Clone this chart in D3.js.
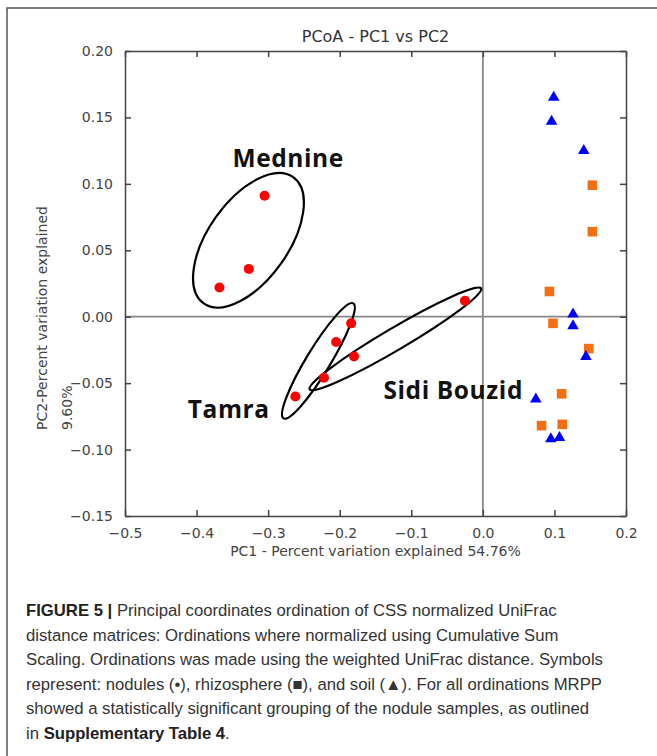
<!DOCTYPE html>
<html>
<head>
<meta charset="utf-8">
<script src="https://cdn.jsdelivr.net/npm/d3@7"></script>
<style>
  body { margin: 0; background: #fff; }
  svg { display: block; }
</style>
</head>
<body>
<div id="chart"></div>
<script>
// Dữ liệu
const xTicks = [-0.5, -0.4, -0.3, -0.2, -0.1, 0.0, 0.1, 0.2];
const yTicks = [-0.15, -0.10, -0.05, 0.00, 0.05, 0.10, 0.15, 0.20];

// nodules (đỏ, tròn)
const noduleX = [-0.305, -0.327, -0.368, -0.025, -0.184, -0.205, -0.180, -0.262, -0.222];
const noduleY = [0.091, 0.036, 0.022, 0.012, -0.005, -0.019, -0.030, -0.060, -0.046];
// rhizosphere (cam, vuông)
const rhizoX = [0.153, 0.153, 0.093, 0.098, 0.148, 0.110, 0.082, 0.111];
const rhizoY = [0.099, 0.064, 0.019, -0.005, -0.024, -0.058, -0.082, -0.081];
// soil (xanh, tam giác)
const soilX = [0.099, 0.096, 0.141, 0.126, 0.126, 0.144, 0.074, 0.095, 0.107];
const soilY = [0.165, 0.147, 0.125, 0.002, -0.007, -0.030, -0.062, -0.092, -0.091];

// các nhóm khoanh tròn: hai đầu trục lớn (đơn vị dữ liệu)
const groupNames = ["Mednine", "Tamra", "Sidi Bouzid"];
const groupTipA = [[-0.390, 0.010], [-0.2785, -0.0765], [-0.242, -0.0547]];
const groupTipB = [[-0.265, 0.105], [-0.181, 0.010], [-0.0024, 0.0213]];
const groupLabelPos = [[-0.272, 0.113], [-0.355, -0.0765], [-0.0414, -0.062]];

const caption = [
    [["FIGURE 5 | ", true], ["Principal coordinates ordination of CSS normalized UniFrac", false]],
    [["distance matrices: Ordinations where normalized using Cumulative Sum", false]],
    [["Scaling. Ordinations was made using the weighted UniFrac distance. Symbols", false]],
    [["represent: nodules (\u2022), rhizosphere (\u25A0), and soil (\u25B2). For all ordinations MRPP", false]],
    [["showed a statistically significant grouping of the nodule samples, as outlined", false]],
    [["in ", false], ["Supplementary Table 4", true], [".", false]]
];

function drawChart() {
    d3.select("#chart").selectAll("*").remove();

    const W = 657, H = 756;
    const svg = d3.select("#chart").append("svg")
        .attr("width", W)
        .attr("height", H);

    svg.append("rect").attr("width", W).attr("height", H).attr("fill", "#fff");

    // khung ngoài (chỉ cạnh trái và trên)
    svg.append("path")
        .attr("d", `M7,${H} L7,8 L${W},8`)
        .attr("fill", "none")
        .attr("stroke", "#555")
        .attr("stroke-width", 1.5);

    // vùng vẽ
    const left = 125, right = 626, top = 51, bottom = 516;

    const xScale = d3.scaleLinear().domain([-0.5, 0.2]).range([left, right]);
    const yScale = d3.scaleLinear().domain([-0.15, 0.20]).range([bottom, top]);

    const tickFont = "'DejaVu Sans', sans-serif";
    const axisColor = "#444";
    const fmt2 = d => d3.format(".2f")(d).replace("-", "\u2212");
    const fmt1 = d => d3.format(".1f")(d).replace("-", "\u2212");

    // trục 0
    svg.append("line")
        .attr("x1", xScale(0)).attr("x2", xScale(0))
        .attr("y1", top).attr("y2", bottom)
        .attr("stroke", "#888").attr("stroke-width", 1.8);
    svg.append("line")
        .attr("x1", left).attr("x2", right)
        .attr("y1", yScale(0)).attr("y2", yScale(0))
        .attr("stroke", "#888").attr("stroke-width", 1.8);

    // trục (tick hướng vào trong, cả bốn cạnh)
    const axes = [
        d3.axisBottom(xScale).tickValues(xTicks).tickFormat(fmt1),
        d3.axisTop(xScale).tickValues(xTicks).tickFormat(""),
        d3.axisLeft(yScale).tickValues(yTicks).tickFormat(fmt2),
        d3.axisRight(yScale).tickValues(yTicks).tickFormat("")
    ];
    const trans = [`translate(0,${bottom})`, `translate(0,${top})`, `translate(${left},0)`, `translate(${right},0)`];
    axes.forEach((ax, i) => {
        const g = svg.append("g")
            .attr("transform", trans[i])
            .call(ax.tickSizeInner(-6).tickSizeOuter(0).tickPadding(12));
        g.select(".domain").attr("stroke", axisColor).attr("stroke-width", 1.5);
        g.selectAll(".tick line").attr("stroke", axisColor).attr("stroke-width", 1.5);
        g.selectAll(".tick text")
            .style("font-family", tickFont)
            .style("font-size", "14px")
            .attr("fill", "#444");
    });

    // tiêu đề
    svg.append("text")
        .attr("x", (left + right) / 2)
        .attr("y", 42)
        .attr("text-anchor", "middle")
        .style("font-family", tickFont)
        .style("font-size", "16px")
        .attr("fill", "#333")
        .text("PCoA - PC1 vs PC2");

    // nhãn trục x
    svg.append("text")
        .attr("x", (left + right) / 2)
        .attr("y", 556)
        .attr("text-anchor", "middle")
        .style("font-family", tickFont)
        .style("font-size", "14px")
        .attr("fill", "#444")
        .text("PC1 - Percent variation explained 54.76%");

    // nhãn trục y (hai dòng)
    const yl = svg.append("text")
        .attr("transform", "translate(47,430) rotate(-90)")
        .style("font-family", tickFont)
        .style("font-size", "14px")
        .attr("fill", "#444");
    yl.append("tspan").attr("x", 0).attr("y", 0).text("PC2-Percent variation explained");
    yl.append("tspan").attr("x", 0).attr("y", 25).text("9.60%");

    // hình ellipse khoanh nhóm
    groupNames.forEach((name, i) => {
        const ax = xScale(groupTipA[i][0]), ay = yScale(groupTipA[i][1]);
        const bx = xScale(groupTipB[i][0]), by = yScale(groupTipB[i][1]);
        const cx = (ax + bx) / 2, cy = (ay + by) / 2;
        const rx = Math.hypot(bx - ax, by - ay) / 2;
        const ang = Math.atan2(by - ay, bx - ax) * 180 / Math.PI;
        const ry = [40, 12, 11][i];
        svg.append("ellipse")
            .attr("cx", 0).attr("cy", 0)
            .attr("rx", rx).attr("ry", ry)
            .attr("transform", `translate(${cx},${cy}) rotate(${ang})`)
            .attr("fill", "none")
            .attr("stroke", "#000")
            .attr("stroke-width", 2.2);

        svg.append("text")
            .attr("x", xScale(groupLabelPos[i][0]))
            .attr("y", yScale(groupLabelPos[i][1]))
            .attr("text-anchor", "middle")
            .style("font-family", "'Open Sans', sans-serif")
            .style("font-weight", "bold")
            .style("font-size", "24.5px")
            .style("letter-spacing", "0.6px")
            .attr("fill", "#111")
            .text(name);
    });

    // điểm
    svg.selectAll(".rhizo")
        .data(d3.zip(rhizoX, rhizoY))
        .enter().append("rect")
        .attr("class", "rhizo")
        .attr("x", d => xScale(d[0]) - 4.8)
        .attr("y", d => yScale(d[1]) - 4.8)
        .attr("width", 9.6).attr("height", 9.6)
        .attr("fill", "#f36f12");

    svg.selectAll(".soil")
        .data(d3.zip(soilX, soilY))
        .enter().append("path")
        .attr("class", "soil")
        .attr("d", d3.symbol().type(d3.symbolTriangle).size(58))
        .attr("transform", d => `translate(${xScale(d[0])},${yScale(d[1])})`)
        .attr("fill", "#0000ff");

    svg.selectAll(".nodule")
        .data(d3.zip(noduleX, noduleY))
        .enter().append("circle")
        .attr("class", "nodule")
        .attr("cx", d => xScale(d[0]))
        .attr("cy", d => yScale(d[1]))
        .attr("r", 5)
        .attr("fill", "#ff0000");

    // chú thích hình
    const cap = svg.append("text")
        .style("font-family", "'Liberation Sans', Arial, sans-serif")
        .style("font-size", "16.7px")
        .attr("fill", "#333");
    caption.forEach((line, i) => {
        line.forEach((part, j) => {
            const t = cap.append("tspan")
                .style("font-weight", part[1] ? "bold" : "normal")
                .attr("fill", part[1] ? "#222" : "#333")
                .text(part[0]);
            if (j === 0) t.attr("x", 26).attr("y", 616 + i * 24.5);
        });
    });
}

drawChart();
</script>
</body>
</html>
